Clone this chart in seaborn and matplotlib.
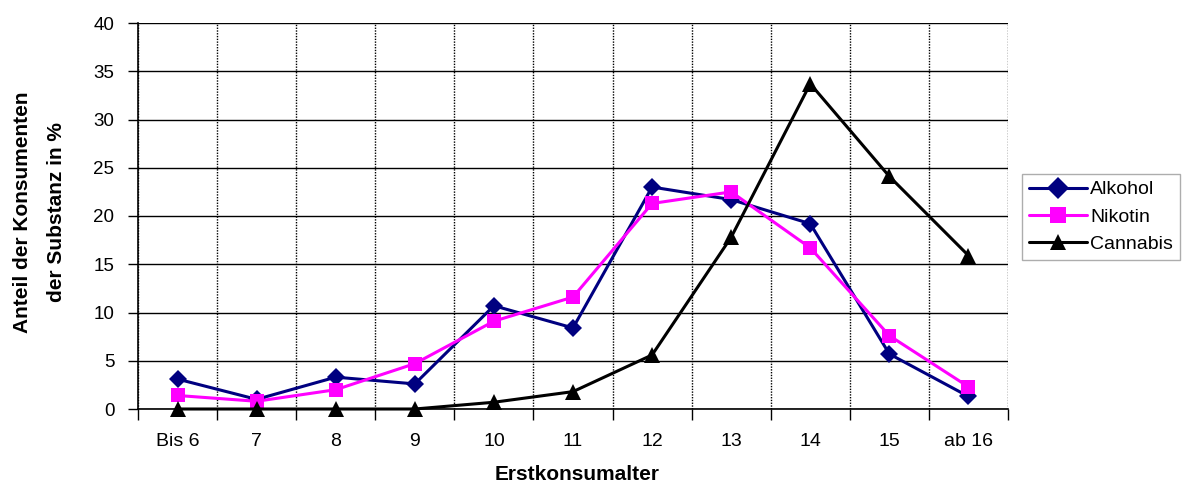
import matplotlib
matplotlib.use("Agg")
import matplotlib.pyplot as plt
from matplotlib.ticker import FixedLocator, MultipleLocator
import numpy as np
import pandas as pd
import seaborn as sns

# Alter beim Erstkonsum
categories = ["Bis 6", "7", "8", "9", "10", "11", "12", "13", "14", "15", "ab 16"]

# Anteil der Konsumenten (%)
alkohol = [3.1, 1.0, 3.3, 2.6, 10.7, 8.4, 23.0, 21.7, 19.2, 5.7, 1.3]
nikotin = [1.4, 0.8, 2.0, 4.7, 9.1, 11.6, 21.3, 22.5, 16.7, 7.6, 2.3]
cannabis = [0.0, 0.0, 0.0, 0.0, 0.7, 1.8, 5.6, 17.8, 33.7, 24.1, 15.9]

series_names = ["Alkohol", "Nikotin", "Cannabis"]
series_values = [alkohol, nikotin, cannabis]

rows = []
for name, vals in zip(series_names, series_values):
    for i, v in enumerate(vals):
        rows.append({"pos": i, "Alter": categories[i], "Substanz": name, "Anteil": v})
df = pd.DataFrame(rows)

sns.set_theme(style="white")
plt.rcParams["font.family"] = ["Liberation Sans", "DejaVu Sans"]
for key in ["text.color", "axes.labelcolor", "xtick.color", "ytick.color"]:
    plt.rcParams[key] = "black"

fig = plt.figure(figsize=(11.94, 4.87), dpi=100)
ax = fig.add_axes([138 / 1194, 78 / 487, 870 / 1194, 386 / 487])

palette = {"Alkohol": "#000080", "Nikotin": "#FF00FF", "Cannabis": "#000000"}
markers = {"Alkohol": "D", "Nikotin": "s", "Cannabis": "^"}

sns.lineplot(
    data=df, x="pos", y="Anteil", hue="Substanz", style="Substanz",
    palette=palette, markers=markers, dashes=False, linewidth=2.2,
    markersize=9.5, markeredgewidth=0, ax=ax, legend=True, zorder=3,
)
for line in ax.lines:
    line.set_clip_on(False)
    if line.get_marker() == "^":
        line.set_markersize(11)

ax.set_xlim(-0.5, len(categories) - 0.5)
ax.set_ylim(0, 40)

# y-axis
ax.yaxis.set_major_locator(MultipleLocator(5))
ax.yaxis.grid(True, color="black", linewidth=1.0, linestyle="-")
ax.tick_params(axis="y", which="major", direction="out", length=7, width=1,
               color="black", labelsize=13.5, pad=10, left=True)

# x-axis: labels at centers, ticks and dotted grid at category boundaries
ax.xaxis.set_major_locator(FixedLocator(np.arange(len(categories))))
ax.set_xticklabels(categories)
ax.xaxis.set_minor_locator(FixedLocator(np.arange(len(categories) + 1) - 0.5))
ax.tick_params(axis="x", which="major", length=0, labelsize=14, pad=17)
ax.tick_params(axis="x", which="minor", direction="out", length=8, width=1,
               color="black", bottom=True)
ax.xaxis.grid(True, which="minor", color="black", linewidth=1.0, linestyle=(0, (1, 1)))
ax.xaxis.grid(False, which="major")

for side in ["top", "right"]:
    ax.spines[side].set_visible(False)
for side in ["left", "bottom"]:
    ax.spines[side].set_color("black")
    ax.spines[side].set_linewidth(1.2)
ax.set_axisbelow(True)

ax.set_xlabel("")
ax.set_ylabel("")
fig.text(577 / 1194, (487 - 475) / 487, "Erstkonsumalter", fontsize=15,
         fontweight="bold", ha="center", va="center")
fig.text(40 / 1194, (487 - 212) / 487, "Anteil der Konsumenten\nder Substanz in %",
         fontsize=15, fontweight="bold", rotation=90, ha="center", va="center",
         multialignment="center", linespacing=2.0)

handles, labels = ax.get_legend_handles_labels()
for h in handles:
    h.set_markersize(11)
ax.legend(handles, labels, loc="center left", bbox_to_anchor=(1022 / 1194, 270 / 487),
          bbox_transform=fig.transFigure, frameon=True, fancybox=False,
          edgecolor="#999999", fontsize=14, handlelength=3.0, handletextpad=0.15,
          borderpad=0.35, labelspacing=0.5, borderaxespad=0)

fig.savefig("out.png", dpi=100, facecolor="white")
